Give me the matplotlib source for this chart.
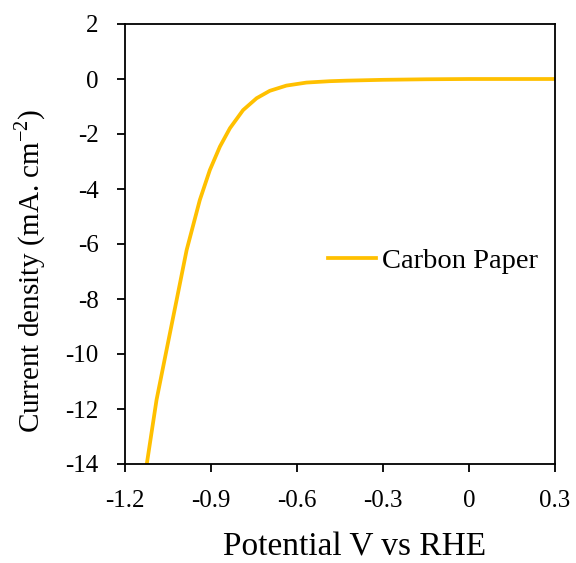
import matplotlib
matplotlib.use("Agg")
import matplotlib.pyplot as plt

# potential (V vs RHE) and current density (mA cm-2)
potential = [-1.124, -1.09, -1.055, -1.02, -0.985, -0.939, -0.904, -0.869,
             -0.834, -0.788, -0.741, -0.695, -0.637, -0.567, -0.486, -0.428,
             -0.3, -0.15, 0.0, 0.15, 0.3]
current = [-14.0, -11.67, -9.85, -8.04, -6.22, -4.4, -3.31, -2.46,
           -1.79, -1.13, -0.70, -0.43, -0.24, -0.13, -0.08, -0.06,
           -0.03, -0.01, 0.0, 0.0, 0.0]

xticks = [-1.2, -0.9, -0.6, -0.3, 0, 0.3]
xlabels = ["-1.2", "-0.9", "-0.6", "-0.3", "0", "0.3"]
yticks = [2, 0, -2, -4, -6, -8, -10, -12, -14]

plt.rcParams['font.family'] = ['Liberation Serif', 'DejaVu Serif']
plt.rcParams['mathtext.fontset'] = 'custom'
plt.rcParams['mathtext.rm'] = 'Liberation Serif'
plt.rcParams['axes.unicode_minus'] = False


def main():
    fig = plt.figure(figsize=(5.76, 5.63), dpi=100)
    ax = fig.add_axes([125/576, 1-464/563, 430/576, 440/563])

    ax.plot(potential, current, color='#FFC000', lw=2.7, label="Carbon Paper",
            solid_joinstyle='round')

    ax.set_xlim(-1.2, 0.3)
    ax.set_ylim(-14, 2)
    ax.set_xticks(xticks)
    ax.set_xticklabels(xlabels)
    ax.set_yticks(yticks)
    ax.tick_params(direction='out', length=6, width=1.3, labelsize=18, pad=13)
    for s in ax.spines.values():
        s.set_linewidth(1.3)

    ax.set_xlabel("Potential V vs RHE", fontsize=24)
    ax.set_ylabel("Current density (mA. cm$^{-2}$)", fontsize=21)
    ax.xaxis.set_label_coords(0.535, -0.155)
    ax.yaxis.set_label_coords(-0.18, 0.439)

    ax.legend(loc='center left', bbox_to_anchor=(0.472, 0.461), frameon=False,
              fontsize=20.5, handlelength=1.7, handletextpad=0.2, borderpad=0,
              borderaxespad=0)

    fig.savefig("out.png", dpi=100)


if __name__ == '__main__':
    main()
